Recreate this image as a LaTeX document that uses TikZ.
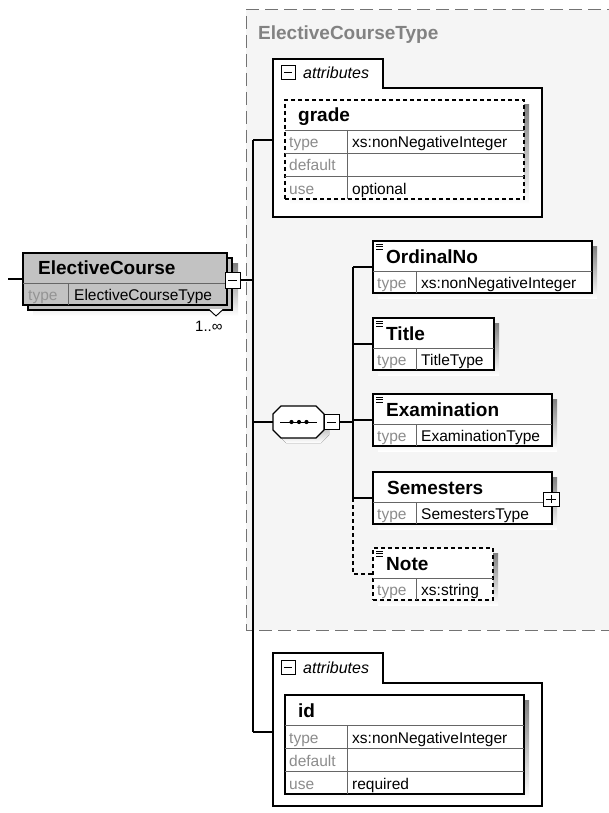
\documentclass[tikz,border=0pt]{standalone}
\usepackage{fontspec}
\setmainfont{Liberation Sans}
\definecolor{typebg}{RGB}{245,245,245}
\definecolor{ecfill}{RGB}{194,194,194}
\definecolor{shade}{RGB}{188,188,188}
\definecolor{lblgray}{RGB}{140,140,140}
\definecolor{titlegray}{RGB}{130,130,130}

% element box: name, left, top, right, column x, title, type, title indent
\newcommand\xelem[8]{%
  \fill[shade] (#2+5,#3+5) rectangle (#4+5,#3+57);
  \node[elbox, elemline, anchor=north west, minimum width={#4-#2}, minimum height=52] (#1) at (#2,#3) {};
  \draw[rowline] (#2,#3+30) -- (#4,#3+30);
  \draw[rowline] (#5,#3+30) -- (#5,#3+52);
  \node[hdr, anchor=base west] (#1-name) at (#2+#8,#3+22) {#6};
  \node[lbl, anchor=base west] (#1-key) at (#2+4,#3+47) {type};
  \node[val, anchor=base west] (#1-type) at (#5+5,#3+47) {#7};
}
% "documentation" mark in the header corner
\newcommand\docmark[2]{%
  \draw[line width=0.9pt] (#1,#2) -- (#1+7,#2) (#1,#2+2.5) -- (#1+7,#2+2.5) (#1,#2+5) -- (#1+7,#2+5);
}
% attribute table: name, top, title, type, use, border style
\newcommand\xattr[6]{%
  \fill[shade] (290,#2+5) rectangle (529,#2+104);
  \node[elbox, #6, anchor=north west, minimum width=239, minimum height=99] (#1) at (285,#2) {};
  \draw[rowline] (285,#2+30) -- (524,#2+30);
  \draw[rowline] (285,#2+53) -- (524,#2+53);
  \draw[rowline] (285,#2+76) -- (524,#2+76);
  \draw[rowline] (347,#2+30) -- (347,#2+99);
  \node[hdr, anchor=base west] (#1-name) at (298,#2+22) {#3};
  \node[lbl, anchor=base west] (#1-k1) at (289,#2+48) {type};
  \node[val, anchor=base west] (#1-v1) at (352,#2+48) {#4};
  \node[lbl, anchor=base west] (#1-k2) at (289,#2+71) {default};
  \node[lbl, anchor=base west] (#1-k3) at (289,#2+94) {use};
  \node[val, anchor=base west] (#1-v3) at (352,#2+94) {#5};
}

\begin{document}
\begin{tikzpicture}[x=1pt,y=-1pt,
  conn/.style={draw=black, line width=1.1pt},
  elbox/.style={rectangle, draw=black, fill=white, line width=1.2pt, inner sep=0pt, outer sep=0pt},
  elemline/.style={},
  dashedbox/.style={dash pattern=on 4pt off 3pt},
  rowline/.style={draw=black!60, line width=0.8pt},
  hdr/.style={font=\fontsize{19}{19}\selectfont\bfseries, inner sep=0pt},
  lbl/.style={font=\fontsize{15.5}{15.5}\selectfont, text=lblgray, inner sep=0pt},
  val/.style={font=\fontsize{15.5}{15.5}\selectfont, inner sep=0pt},
  italbl/.style={font=\fontsize{16}{16}\selectfont\itshape, inner sep=0pt},
  iconbox/.style={rectangle, draw=black, fill=white, line width=1pt, inner sep=0pt, outer sep=0pt, minimum width=15pt, minimum height=15pt},
  grpline/.style={draw=black, fill=white, line width=1.2pt},
]
\useasboundingbox (0,0) rectangle (608,813);
\fill[white] (0,0) rectangle (608,813);

% complex type frame
\path[fill=typebg] (246,10) rectangle (620,630);
\draw[draw=black!55, line width=1pt, dash pattern=on 13pt off 6pt] (620,10) -- (246,10) -- (246,630) -- (620,630);
\node[anchor=base west, font=\fontsize{19}{19}\selectfont\bfseries, text=titlegray, inner sep=0pt] (typename) at (258,40) {ElectiveCourseType};

% ElectiveCourse element (repeating, stacked)
\fill[shade] (33,263) rectangle (238,316);
\node[elbox, fill=ecfill, anchor=north west, minimum width=204, minimum height=52] (ecback) at (28,258) {};
\node[elbox, fill=ecfill, anchor=north west, minimum width=204, minimum height=52] (ec) at (23,253) {};
\draw[rowline] (23,283) -- (227,283);
\draw[rowline] (68,283) -- (68,305);
\node[hdr, anchor=base west] (ec-name) at (38,274) {ElectiveCourse};
\node[lbl, text=black!42, anchor=base west] (ec-key) at (28,300) {type};
\node[val, anchor=base west] (ec-type) at (74,300) {ElectiveCourseType};
\fill[white] (209,309) -- (216,316) -- (223,309) -- cycle;
\draw[line width=0.9pt] (209,309.5) -- (216,316) -- (223,309.5);
\node[anchor=base west, font=\fontsize{15}{15}\selectfont, inner sep=0pt] (ec-mult) at (195,331) {1..∞};
\node[iconbox, minimum height=16pt] (ecm) at (232.5,280) {};
\draw[line width=1pt] ([xshift=3pt]ecm.west) -- ([xshift=-3pt]ecm.east);
\coordinate (in) at (8,279);
\draw[conn] (in) -- (ec.west);

% upper attributes group
\node[inner sep=0pt, outer sep=0pt, minimum width=269, minimum height=162, anchor=north west] (attrA) at (273,59) {};
\draw[grpline] (273,88) -- (273,59) -- (383,59) -- (383,88) -- (542,88) -- (542,217) -- (273,217) -- cycle;
\node[iconbox, minimum width=14pt, minimum height=14pt] (attrA-m) at (288,73) {};
\draw[line width=1pt] ([xshift=3pt]attrA-m.west) -- ([xshift=-3pt]attrA-m.east);
\node[italbl, anchor=base west] (attrA-lbl) at (303,79) {attributes};
\xattr{grade}{100}{grade}{xs:nonNegativeInteger}{optional}{dashedbox}

% lower attributes group
\node[inner sep=0pt, outer sep=0pt, minimum width=269, minimum height=158, anchor=north west] (attrB) at (273,653) {};
\draw[grpline] (273,683) -- (273,653) -- (383,653) -- (383,683) -- (542,683) -- (542,806) -- (273,806) -- cycle;
\node[iconbox, minimum width=14pt, minimum height=14pt] (attrB-m) at (288,667) {};
\draw[line width=1pt] ([xshift=3pt]attrB-m.west) -- ([xshift=-3pt]attrB-m.east);
\node[italbl, anchor=base west] (attrB-lbl) at (303,673) {attributes};
\xattr{idattr}{695}{id}{xs:nonNegativeInteger}{required}{}

% sequence compositor
\fill[shade] (286,411) -- (321,411) -- (329,419) -- (329,435) -- (321,443) -- (286,443) -- (278,435) -- (278,419) -- cycle;
\draw[line width=1.1pt, fill=white] (281,406) -- (316,406) -- (324,414) -- (324,430) -- (316,438) -- (281,438) -- (273,430) -- (273,414) -- cycle;
\node[inner sep=0pt, outer sep=0pt, minimum width=51, minimum height=32, anchor=north west] (seq) at (273,406) {};
\draw[line width=1pt] (280,422) -- (317,422);
\foreach \dx in {291.5,299,306.5} \fill (\dx,422) circle (2.1pt);
\node[iconbox] (seqm) at (331.5,422) {};
\draw[line width=1pt] ([xshift=3pt]seqm.west) -- ([xshift=-3pt]seqm.east);

% child elements
\xelem{ord}{373}{241}{592}{416}{OrdinalNo}{xs:nonNegativeInteger}{13}
\docmark{376}{244}
\xelem{title}{373}{318}{494}{416}{Title}{TitleType}{13}
\docmark{376}{321}
\xelem{exam}{373}{394}{552}{416}{Examination}{ExaminationType}{13}
\docmark{376}{397}
\xelem{sem}{373}{472}{552}{416}{Semesters}{SemestersType}{14}
\node[iconbox, minimum width=16pt, minimum height=14pt] (semp) at (551,499) {};
\draw[line width=1pt] ([xshift=3pt]semp.west) -- ([xshift=-3pt]semp.east);
\draw[line width=1pt] ([yshift=-3pt]semp.north) -- ([yshift=3pt]semp.south);
\tikzset{elemline/.style={dashedbox}}
\xelem{note}{373}{548}{493}{416}{Note}{xs:string}{13}
\docmark{376}{551}
\tikzset{elemline/.style={}}

% connectors
\coordinate (busx) at (253,0);
\coordinate (cbus) at (353,0);
\draw[conn] (ecm.east) -- (ecm.east -| busx);
\draw[conn] (attrA.west -| busx) -- (attrB.west -| busx);
\draw[conn] (attrA.west -| busx) -- (attrA.west);
\draw[conn] (seq.west -| busx) -- (seq.west);
\draw[conn] (attrB.west -| busx) -- (attrB.west);
\draw[conn] (seqm.east) -- (seqm.east -| cbus);
\draw[conn] (ord.west -| cbus) -- (sem.west -| cbus);
\foreach \c in {ord,title,exam,sem} \draw[conn] (\c.west -| cbus) -- (\c.west);
\draw[conn, dash pattern=on 4pt off 3pt] (sem.west -| cbus) |- (note.west);
\end{tikzpicture}
\end{document}
